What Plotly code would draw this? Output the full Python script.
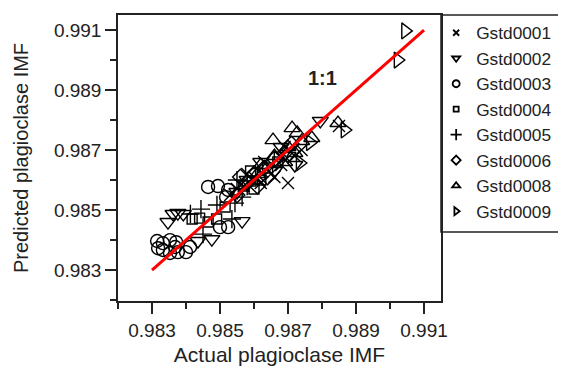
import plotly.graph_objects as go

# ---- data ----
names = ["Gstd0001", "Gstd0002", "Gstd0003", "Gstd0004",
         "Gstd0005", "Gstd0006", "Gstd0008", "Gstd0009"]

g1_x = [0.9857, 0.9860, 0.9862, 0.9865, 0.9868, 0.9870, 0.9866, 0.9858, 0.9855, 0.9872, 0.9874, 0.9863, 0.9853, 0.9869, 0.9885]
g1_y = [0.9858, 0.9861, 0.9859, 0.9862, 0.9865, 0.9859, 0.9861, 0.9862, 0.9857, 0.9868, 0.9870, 0.9866, 0.9855, 0.9871, 0.9878]

g2_x = [0.98795, 0.98565, 0.98362, 0.98392, 0.98435, 0.98476, 0.98347, 0.98376, 0.9862, 0.9866, 0.9870, 0.9872, 0.9858, 0.9855, 0.9868]
g2_y = [0.98797, 0.98463, 0.98487, 0.98487, 0.98397, 0.98403, 0.98460, 0.98490, 0.9866, 0.9863, 0.9868, 0.9865, 0.9860, 0.9856, 0.9871]

g3_x = [0.98315, 0.98332, 0.98353, 0.98371, 0.98332, 0.98353, 0.98376, 0.98400, 0.98412, 0.98318, 0.98368, 0.98500, 0.98524, 0.98465, 0.98494, 0.98524, 0.98518]
g3_y = [0.98397, 0.98390, 0.98400, 0.98393, 0.98367, 0.98357, 0.98360, 0.98360, 0.98377, 0.98373, 0.98377, 0.98443, 0.98443, 0.98577, 0.98580, 0.98567, 0.98543]

g4_x = [0.98418, 0.98440, 0.98465, 0.98490, 0.9857, 0.9860, 0.9862, 0.9864, 0.9867, 0.9859, 0.98515]
g4_y = [0.98470, 0.98473, 0.98460, 0.98470, 0.9858, 0.9857, 0.9860, 0.9864, 0.9866, 0.9863, 0.98510]

g5_x = [0.98444, 0.98491, 0.98544, 0.98565, 0.98535, 0.98450, 0.9858, 0.9855, 0.98413]
g5_y = [0.98503, 0.98517, 0.98523, 0.98543, 0.98470, 0.98420, 0.9858, 0.9860, 0.98487]

g6_x = [0.9860, 0.9863, 0.9866, 0.9858, 0.9869, 0.9861, 0.9864, 0.9871, 0.9856, 0.9855]
g6_y = [0.9862, 0.9864, 0.9867, 0.9859, 0.9869, 0.9858, 0.9861, 0.9872, 0.9861, 0.9855]

g8_x = [0.98847, 0.98712, 0.98727, 0.98656, 0.9870, 0.9869, 0.9872, 0.9866, 0.9874, 0.9862, 0.9877, 0.9861]
g8_y = [0.98790, 0.98773, 0.98757, 0.98733, 0.9871, 0.9866, 0.9869, 0.9868, 0.9873, 0.9865, 0.9874, 0.9862]

g9_x = [0.99045, 0.99023, 0.98867, 0.98735, 0.98765, 0.9867, 0.9862]
g9_y = [0.99097, 0.99000, 0.98767, 0.98657, 0.98725, 0.9867, 0.9861]

series_x = [g1_x, g2_x, g3_x, g4_x, g5_x, g6_x, g8_x, g9_x]
series_y = [g1_y, g2_y, g3_y, g4_y, g5_y, g6_y, g8_y, g9_y]
symbols = ["x-thin-open", "triangle-down-open", "circle-open", "square-open",
           "cross-thin-open", "diamond-open", "triangle-up-open", "triangle-right-open"]
sizes = [12, 14, 13, 10, 13, 12, 14, 14]
leg_sizes = [6, 7, 7, 5, 8, 7, 7, 7]

line_x = [0.983, 0.991]
line_y = [0.983, 0.991]

x_ticks = [0.983, 0.985, 0.987, 0.989, 0.991]
y_ticks = [0.983, 0.985, 0.987, 0.989, 0.991]

FONT = "Liberation Sans, Arial"
INK = "#222222"

fig = go.Figure()

for i, nm in enumerate(names):
    fig.add_trace(go.Scatter(
        x=series_x[i], y=series_y[i], mode="markers", showlegend=False,
        marker=dict(symbol=symbols[i], size=sizes[i], color="black",
                    line=dict(color="black", width=1.4)),
        name=nm))

fig.add_trace(go.Scatter(x=line_x, y=line_y, mode="lines", showlegend=False,
                         line=dict(color="#ff0000", width=3)))

for i, nm in enumerate(names):
    fig.add_trace(go.Scatter(
        x=[None], y=[None], mode="markers", name=nm,
        marker=dict(symbol=symbols[i], size=leg_sizes[i], color="black",
                    line=dict(color="black", width=1.8))))

axis_common = dict(
    showgrid=False, zeroline=False, showline=True, linecolor=INK,
    linewidth=1.5, mirror=True, ticks="outside", ticklen=11, tickwidth=1.5,
    tickcolor=INK, tickfont=dict(family=FONT, size=19, color=INK),
    minor=dict(ticks="outside", ticklen=6, tickwidth=1.5, tickcolor=INK, dtick=0.001),
    tickformat=".3f",
)

fig.update_xaxes(range=[0.982, 0.9915], tickvals=x_ticks, **axis_common,
                 title=dict(text="Actual plagioclase IMF", standoff=8,
                            font=dict(family=FONT, size=21, color=INK)))
fig.update_yaxes(range=[0.98197, 0.9915], tickvals=y_ticks, **axis_common,
                 title=dict(text="Predicted plagioclase IMF", standoff=20,
                            font=dict(family=FONT, size=20, color=INK)))

fig.add_annotation(x=0.988, y=0.9894, text="<b>1:1</b>", showarrow=False,
                   font=dict(family=FONT, size=20, color=INK))

# legend frame
fig.add_shape(type="rect", xref="paper", yref="paper", x0=1.0, x1=1.6, y0=0.241, y1=1.0,
              line=dict(color=INK, width=1.5), fillcolor="rgba(0,0,0,0)")

fig.update_layout(
    width=558, height=373,
    margin=dict(l=110, r=125, t=7, b=80, autoexpand=False),
    paper_bgcolor="white", plot_bgcolor="white",
    legend=dict(x=0.985, xanchor="left", y=1.0, yanchor="top",
                bgcolor="rgba(0,0,0,0)", borderwidth=0, tracegroupgap=0,
                font=dict(family=FONT, size=17.3, color=INK)),
)

fig.write_html("out.html")
